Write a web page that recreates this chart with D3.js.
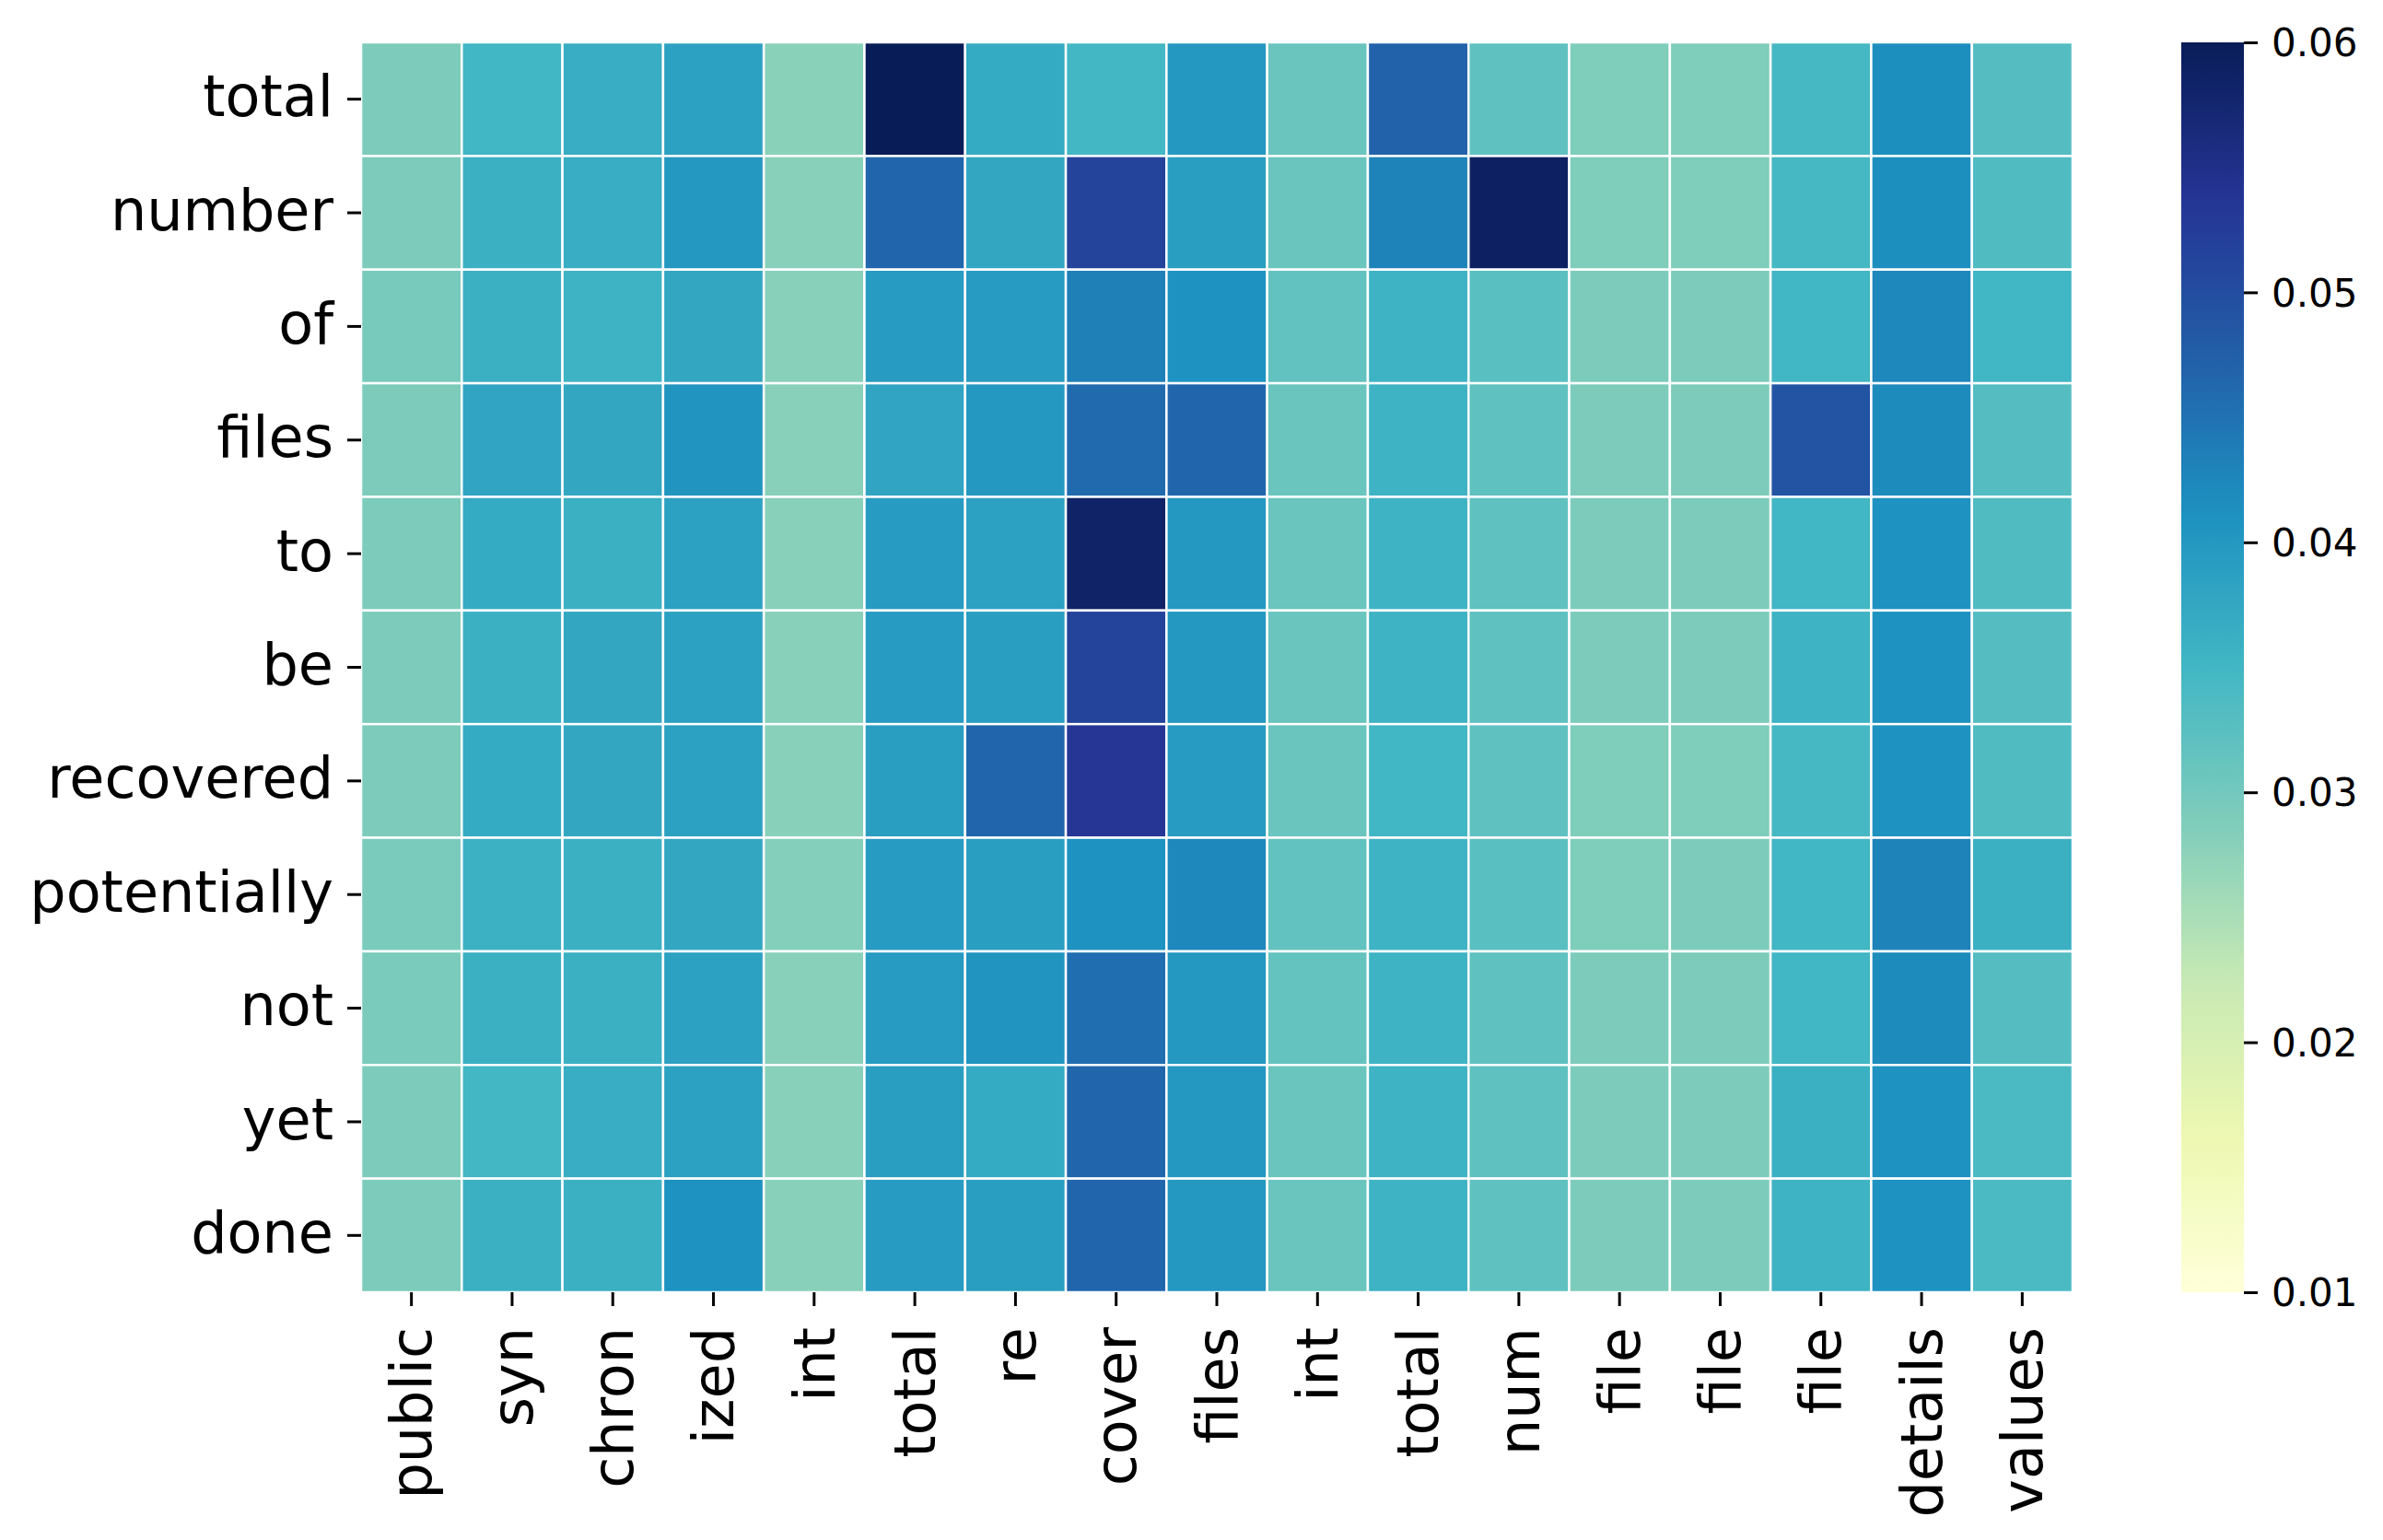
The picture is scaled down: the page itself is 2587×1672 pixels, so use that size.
<!DOCTYPE html>
<html lang="en">

<head>
    <meta charset="utf-8">
    <title>Attention heatmap</title>
    <script type="text/javascript" src="https://cdn.jsdelivr.net/npm/d3@7"></script>
    <style type="text/css">
    body {
        margin: 0;
        background: white;
    }
    text {
        font-family: "DejaVu Sans", sans-serif;
        fill: black;
    }
    </style>
</head>

<body>
    <script type="text/javascript">
    //svg size
    var w = 2587;
    var h = 1672;

    //labels
    var colLabels = ["public", "syn", "chron", "ized", "int", "total", "re", "cover", "files",
        "int", "total", "num", "file", "file", "file", "details", "values"];
    var rowLabels = ["total", "number", "of", "files", "to", "be", "recovered",
        "potentially", "not", "yet", "done"];

    //values, one array per row
    var rowTotal       = [0.0290, 0.0350, 0.0365, 0.0385, 0.0278, 0.0600, 0.0370, 0.0348, 0.0400, 0.0310, 0.0470, 0.0320, 0.0288, 0.0288, 0.0345, 0.0415, 0.0330];
    var rowNumber      = [0.0290, 0.0360, 0.0365, 0.0400, 0.0280, 0.0465, 0.0375, 0.0515, 0.0390, 0.0310, 0.0430, 0.0590, 0.0288, 0.0288, 0.0345, 0.0415, 0.0335];
    var rowOf          = [0.0295, 0.0360, 0.0355, 0.0375, 0.0280, 0.0395, 0.0395, 0.0435, 0.0410, 0.0318, 0.0355, 0.0325, 0.0290, 0.0290, 0.0350, 0.0425, 0.0350];
    var rowFiles       = [0.0290, 0.0380, 0.0375, 0.0405, 0.0280, 0.0380, 0.0400, 0.0460, 0.0465, 0.0310, 0.0355, 0.0320, 0.0290, 0.0290, 0.0490, 0.0420, 0.0330];
    var rowTo          = [0.0290, 0.0370, 0.0360, 0.0385, 0.0280, 0.0395, 0.0385, 0.0585, 0.0400, 0.0310, 0.0355, 0.0320, 0.0290, 0.0290, 0.0350, 0.0410, 0.0335];
    var rowBe          = [0.0290, 0.0360, 0.0375, 0.0385, 0.0280, 0.0395, 0.0390, 0.0515, 0.0400, 0.0310, 0.0355, 0.0320, 0.0290, 0.0290, 0.0355, 0.0410, 0.0330];
    var rowRecovered   = [0.0290, 0.0370, 0.0375, 0.0385, 0.0280, 0.0390, 0.0465, 0.0535, 0.0395, 0.0310, 0.0350, 0.0320, 0.0288, 0.0288, 0.0345, 0.0410, 0.0335];
    var rowPotentially = [0.0293, 0.0358, 0.0360, 0.0375, 0.0284, 0.0395, 0.0390, 0.0410, 0.0425, 0.0318, 0.0355, 0.0325, 0.0288, 0.0290, 0.0350, 0.0430, 0.0360];
    var rowNot         = [0.0292, 0.0360, 0.0360, 0.0385, 0.0280, 0.0395, 0.0405, 0.0455, 0.0400, 0.0315, 0.0355, 0.0320, 0.0290, 0.0290, 0.0350, 0.0420, 0.0330];
    var rowYet         = [0.0290, 0.0348, 0.0365, 0.0385, 0.0280, 0.0390, 0.0370, 0.0465, 0.0400, 0.0310, 0.0355, 0.0320, 0.0290, 0.0290, 0.0360, 0.0410, 0.0340];
    var rowDone        = [0.0290, 0.0360, 0.0360, 0.0410, 0.0280, 0.0395, 0.0390, 0.0465, 0.0400, 0.0310, 0.0355, 0.0320, 0.0290, 0.0290, 0.0355, 0.0410, 0.0340];

    var matrix = [rowTotal, rowNumber, rowOf, rowFiles, rowTo, rowBe, rowRecovered,
        rowPotentially, rowNot, rowYet, rowDone];

    //colorbar ticks
    var cbarTicks = [0.01, 0.02, 0.03, 0.04, 0.05, 0.06];

    //YlGnBu stops (same as matplotlib)
    var ylgnbu = ["#ffffd9", "#edf8b1", "#c7e9b4", "#7fcdbb", "#41b6c4",
        "#1d91c0", "#225ea8", "#253494", "#081d58"];
    var vmin = 0.01, vmax = 0.06;

    var color = d3.scaleLinear()
        .domain(d3.range(ylgnbu.length).map(function(i) {
            return vmin + (vmax - vmin) * i / (ylgnbu.length - 1);
        }))
        .range(ylgnbu)
        .interpolate(d3.interpolateRgb)
        .clamp(true);

    //plot area
    var plotLeft = 392, plotRight = 2250, plotTop = 46, plotBottom = 1403;

    var x = d3.scaleBand()
        .domain(d3.range(colLabels.length))
        .range([plotLeft, plotRight]);
    var y = d3.scaleBand()
        .domain(d3.range(rowLabels.length))
        .range([plotTop, plotBottom]);

    var svg = d3.select('body')
        .append('svg')
        .attr('width', w)
        .attr('height', h);

    //cells
    var cells = [];
    matrix.forEach(function(row, r) {
        row.forEach(function(v, c) {
            cells.push({ r: r, c: c, v: v });
        });
    });

    svg.append('g')
        .selectAll('rect')
        .data(cells)
        .enter()
        .append('rect')
        .attr('x', function(d) { return x(d.c); })
        .attr('y', function(d) { return y(d.r); })
        .attr('width', x.bandwidth())
        .attr('height', y.bandwidth())
        .attr('fill', function(d) { return color(d.v); })
        .attr('stroke', 'white')
        .attr('stroke-width', 2.5);

    //y axis
    var yAxis = svg.append('g')
        .attr('transform', 'translate(' + plotLeft + ',0)')
        .call(d3.axisLeft(y)
            .tickSize(15)
            .tickPadding(15)
            .tickFormat(function(i) { return rowLabels[i]; }));
    yAxis.select('.domain').remove();
    yAxis.selectAll('line').attr('stroke-width', 3);
    yAxis.selectAll('text')
        .style('font-size', '62px')
        .attr('dy', '0.3em');

    //x axis
    var xAxis = svg.append('g')
        .attr('transform', 'translate(0,' + plotBottom + ')')
        .call(d3.axisBottom(x)
            .tickSize(15)
            .tickFormat(function(i) { return colLabels[i]; }));
    xAxis.select('.domain').remove();
    xAxis.selectAll('line').attr('stroke-width', 3);
    xAxis.selectAll('text')
        .style('font-size', '62px')
        .attr('text-anchor', 'end')
        .attr('x', -38)
        .attr('y', 0)
        .attr('dy', '0.35em')
        .attr('transform', 'rotate(-90)');

    //colorbar
    var cbX = 2368, cbW = 68;
    var cbScale = d3.scaleLinear()
        .domain([vmin, vmax])
        .range([plotBottom, plotTop]);

    var grad = svg.append('defs')
        .append('linearGradient')
        .attr('id', 'cbar')
        .attr('x1', 0).attr('y1', 1)
        .attr('x2', 0).attr('y2', 0);
    grad.selectAll('stop')
        .data(d3.range(0, 1.0001, 0.02))
        .enter()
        .append('stop')
        .attr('offset', function(t) { return t; })
        .attr('stop-color', function(t) { return color(vmin + t * (vmax - vmin)); });

    svg.append('rect')
        .attr('x', cbX)
        .attr('y', plotTop)
        .attr('width', cbW)
        .attr('height', plotBottom - plotTop)
        .attr('fill', 'url(#cbar)');

    var cAxis = svg.append('g')
        .attr('transform', 'translate(' + (cbX + cbW) + ',0)')
        .call(d3.axisRight(cbScale)
            .tickValues(cbarTicks)
            .tickSize(15)
            .tickPadding(15)
            .tickFormat(d3.format('.2f')));
    cAxis.select('.domain').remove();
    cAxis.selectAll('line').attr('stroke-width', 3);
    cAxis.selectAll('text')
        .style('font-size', '42px')
        .attr('dy', '0.35em');
    </script>
</body>
</html>
